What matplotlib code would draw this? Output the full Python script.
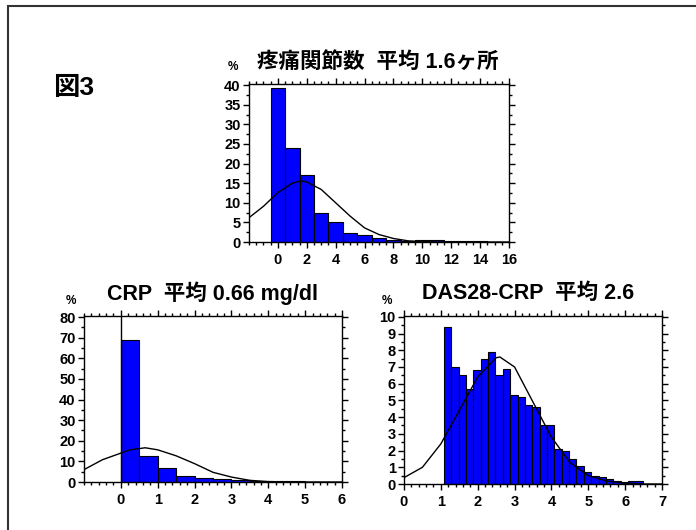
import matplotlib.pyplot as plt
import matplotlib.patches as mpatches
from matplotlib.ticker import MultipleLocator

# 疼痛関節数 (bin width 1, centered on integers)
joint_bins = list(range(0, 15))
joint_pct = [39.3, 23.9, 17.0, 7.4, 5.0, 2.4, 1.9, 0.9, 0.6, 0.3, 0.6, 0.4, 0.2, 0.2, 0.2]
joint_curve_x = [-2, -1, 0, 1, 1.6, 2, 3, 4, 5, 6, 7, 8, 9, 10, 11, 12, 16]
joint_curve_y = [6.2, 9.1, 12.6, 15.0, 15.6, 15.3, 13.4, 10.0, 6.6, 3.6, 1.9, 0.9, 0.3, 0.1, 0.0, 0.0, 0.0]

# CRP (bin width 0.5, left edges)
crp_bins = [0, 0.5, 1.0, 1.5, 2.0, 2.5, 3.0, 3.5, 4.0, 4.5, 5.0]
crp_pct = [68.7, 12.7, 7.0, 2.7, 2.0, 1.5, 1.0, 0.6, 0.6, 0.3, 0.1]
crp_curve_x = [-1, -0.5, 0, 0.25, 0.66, 1.0, 1.5, 2.0, 2.5, 3.0, 3.5, 4.0, 4.5, 5.0, 6.0]
crp_curve_y = [6.0, 10.8, 14.0, 15.6, 16.6, 15.6, 12.7, 8.9, 4.7, 2.4, 0.8, 0.2, 0.05, 0.0, 0.0]

# DAS28-CRP (bin width 0.2, left edges from 1.08)
das_start = 1.08
das_pct = [9.4, 7.0, 6.5, 5.7, 6.8, 7.5, 7.9, 6.5, 6.9, 5.3, 5.2, 4.7, 4.6, 3.5,
           3.5, 2.1, 2.0, 1.5, 1.1, 0.7, 0.5, 0.4, 0.3, 0.2, 0.1, 0.2, 0.2]
das_curve_x = [0, 0.5, 1.0, 1.5, 2.0, 2.5, 2.6, 3.0, 3.5, 4.0, 4.5, 5.0, 5.5, 6.0, 6.5, 7.0]
das_curve_y = [0.38, 1.0, 2.4, 4.4, 6.4, 7.55, 7.6, 7.0, 4.9, 2.8, 1.3, 0.5, 0.18, 0.05, 0.0, 0.0]

BLUE = '#0000FF'
FONT = ['Liberation Sans', 'Noto Sans CJK JP', 'DejaVu Sans']
plt.rcParams['font.family'] = FONT
plt.rcParams['font.weight'] = 'bold'

fig = plt.figure(figsize=(6.96, 5.30), dpi=100)

# outer frame (left/top edges visible)
fig.patches.append(mpatches.Rectangle((8 / 696, -0.1), 1.2, (530 - 6) / 530 + 0.1,
                                      transform=fig.transFigure, fill=False,
                                      edgecolor='#333333', linewidth=1.5))


def style_axis(ax, xmaj, xmin, ymaj, ymin):
    ax.xaxis.set_major_locator(MultipleLocator(xmaj))
    ax.xaxis.set_minor_locator(MultipleLocator(xmin))
    ax.yaxis.set_major_locator(MultipleLocator(ymaj))
    ax.yaxis.set_minor_locator(MultipleLocator(ymin))
    ax.tick_params(which='both', direction='out', top=True, right=True,
                   labelsize=10.5, width=1, pad=2)
    ax.tick_params(axis='x', which='major', pad=4)
    ax.tick_params(which='major', length=4)
    ax.tick_params(which='minor', length=2)
    for s in ax.spines.values():
        s.set_linewidth(1)


# top: joints
ax1 = fig.add_axes([249 / 696, 1 - 242 / 530, 260 / 696, 158 / 530])
ax1.bar(joint_bins, joint_pct, width=1.0, color=BLUE, edgecolor='black', linewidth=0.8)
ax1.plot(joint_curve_x, joint_curve_y, color='black', linewidth=1)
ax1.set_xlim(-2, 16)
ax1.set_ylim(0, 40.3)
style_axis(ax1, 2, 0.5, 5, 2.5)
ax1.set_xticks(range(0, 17, 2))

# bottom-left: CRP
ax2 = fig.add_axes([84 / 696, 1 - 482 / 530, 258 / 696, 166 / 530])
ax2.bar(crp_bins, crp_pct, width=0.5, align='edge', color=BLUE, edgecolor='black', linewidth=0.8)
ax2.plot(crp_curve_x, crp_curve_y, color='black', linewidth=1)
ax2.axvline(0, color='black', linewidth=1)
ax2.set_xlim(-1, 6)
ax2.set_ylim(0, 80.5)
style_axis(ax2, 1, 0.2, 10, 5)
ax2.set_xticks(range(0, 7))

# bottom-right: DAS28-CRP
das_bins = [das_start + 0.2 * i for i in range(len(das_pct))]
ax3 = fig.add_axes([404 / 696, 1 - 484 / 530, 258 / 696, 168 / 530])
ax3.bar(das_bins, das_pct, width=0.2, align='edge', color=BLUE, edgecolor='black', linewidth=0.8)
ax3.plot(das_curve_x, das_curve_y, color='black', linewidth=1)
ax3.set_xlim(0, 7)
ax3.set_ylim(0, 10.05)
style_axis(ax3, 1, 0.2, 1, 0.5)

# titles and labels
fig.text(378 / 696, 1 - 62 / 530, '疼痛関節数  平均 1.6ヶ所', ha='center', va='center',
         fontsize=15.5, fontweight='bold', family=FONT)
fig.text(233 / 696, 1 - 67 / 530, '%', ha='center', va='center', fontsize=8.5, fontweight='bold')
fig.text(213 / 696, 1 - 293 / 530, 'CRP  平均 0.66 mg/dl', ha='center', va='center',
         fontsize=15.5, fontweight='bold', family=FONT)
fig.text(71 / 696, 1 - 301 / 530, '%', ha='center', va='center', fontsize=8.5, fontweight='bold')
fig.text(528 / 696, 1 - 293 / 530, 'DAS28-CRP  平均 2.6', ha='center', va='center',
         fontsize=15.5, fontweight='bold', family=FONT)
fig.text(387 / 696, 1 - 301 / 530, '%', ha='center', va='center', fontsize=8.5, fontweight='bold')
fig.text(53 / 696, 1 - 88 / 530, '図3', ha='left', va='center', fontsize=19,
         fontweight='bold', family=FONT)

plt.savefig('out.png', dpi=100)
